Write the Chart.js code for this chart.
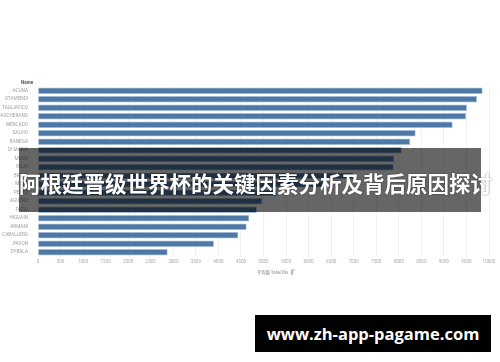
<!DOCTYPE html>
<html>
<head>
<meta charset="utf-8">
<script src="https://cdn.jsdelivr.net/npm/chart.js@4/dist/chart.umd.min.js"></script>
<style>
    html, body { margin: 0; padding: 0; background: #fff; }
    #wrap { position: relative; width: 500px; height: 362px; overflow: hidden; }
    #banner {
        position: absolute; left: 19px; top: 148px; width: 462px; height: 64px;
        background: rgba(0, 0, 0, 0.6);
        color: #fff; font: bold 21.5px "Noto Sans CJK SC", sans-serif;
        text-align: center; line-height: 64px; padding-top: 3px; box-sizing: border-box;
        text-shadow: 0 0 2px rgba(0,0,0,0.5);
        white-space: nowrap;
    }
    #site {
        position: absolute; left: 255px; top: 315px; width: 236px; height: 37px;
        background: #000; color: #fff;
        font: bold 16.5px "Open Sans", sans-serif;
        text-align: center; line-height: 37px;
    }
</style>
</head>
<body>
<div id="wrap">
    <canvas id="chart" width="500" height="362"></canvas>
    <div id="banner">阿根廷晋级世界杯的关键因素分析及背后原因探讨</div>
    <div id="site">www.zh-app-pagame.com</div>
</div>
<script>
// Spieler und durchschnittliche Laufdistanz
const players = ["ACUNA", "OTAMENDI", "TAGLIAFICO", "MASCHERANO", "MERCADO", "SALVIO", "BANEGA",
    "DI MARIA", "MESSI", "ROJO", "BIGLIA", "MEZA", "PEREZ", "AGUERO", "FAZIO",
    "HIGUAIN", "ARMANI", "CABALLERO", "PAVON", "DYBALA"];
const totalDistance = [9860, 9735, 9512, 9490, 9195, 8374, 8255,
    8064, 7900, 7887, 6985, 6400, 5300, 4975, 4852,
    4686, 4627, 4442, 3902, 2875];
const axisTitle = "平均值 Total Dis";
const headerLabel = "Name";

// Beschriftungen "Name" und Achsentitel zeichnen
const textPlugin = {
    id: "texts",
    afterDraw: (chart) => {
        const ctx = chart.ctx;
        ctx.save();
        ctx.fillStyle = "#555";
        ctx.font = "bold 4.6px Roboto, sans-serif";
        ctx.textBaseline = "middle";
        ctx.textAlign = "left";
        ctx.fillText(headerLabel, 21, 82.5);

        ctx.fillStyle = "#777";
        ctx.font = "4.3px 'Noto Sans CJK SC', sans-serif";
        ctx.fillText(axisTitle, 257, 272);
        const w = ctx.measureText(axisTitle).width;
        // kleines Sortier-Symbol
        ctx.strokeStyle = "#888";
        ctx.lineWidth = 0.7;
        const x0 = 257 + w + 3;
        ctx.beginPath();
        ctx.moveTo(x0, 270); ctx.lineTo(x0 + 4, 270);
        ctx.moveTo(x0, 272); ctx.lineTo(x0 + 3, 272);
        ctx.moveTo(x0, 274); ctx.lineTo(x0 + 2, 274);
        ctx.moveTo(x0 + 1, 270); ctx.lineTo(x0 + 1, 275);
        ctx.stroke();
        ctx.restore();
    }
};

new Chart(document.getElementById("chart"), {
    type: "bar",
    data: {
        labels: players,
        datasets: [{
            label: axisTitle,
            data: totalDistance,
            backgroundColor: "#4e79a7",
            borderColor: "#a9c3df",
            borderWidth: 0.8,
            barPercentage: 0.76,
            categoryPercentage: 1.0,
        }],
    },
    options: {
        indexAxis: "y",
        responsive: false,
        animation: false,
        layout: { padding: { top: 86.5, left: 0, right: 11, bottom: 81.5 } },
        plugins: {
            legend: { display: false },
            tooltip: { enabled: false },
        },
        scales: {
            x: {
                min: 0,
                max: 10000,
                ticks: {
                    stepSize: 500,
                    autoSkip: false,
                    maxRotation: 0,
                    padding: 2.5,
                    color: "#aaa",
                    font: { size: 4.6, family: "Roboto, sans-serif" },
                    callback: (value) => String(value),
                },
                grid: { color: "#eeeeee", lineWidth: 0.8, drawTicks: false },
                border: { display: false },
                afterFit: (scale) => { scale.height = 24; },
            },
            y: {
                ticks: {
                    padding: 2,
                    color: "#a0a0a0",
                    font: { size: 4.7, family: "Roboto, sans-serif" },
                    autoSkip: false,
                },
                grid: { display: false },
                border: { display: false },
                afterFit: (scale) => { scale.width = 38; },
            },
        },
    },
    plugins: [textPlugin],
});
</script>
</body>
</html>
